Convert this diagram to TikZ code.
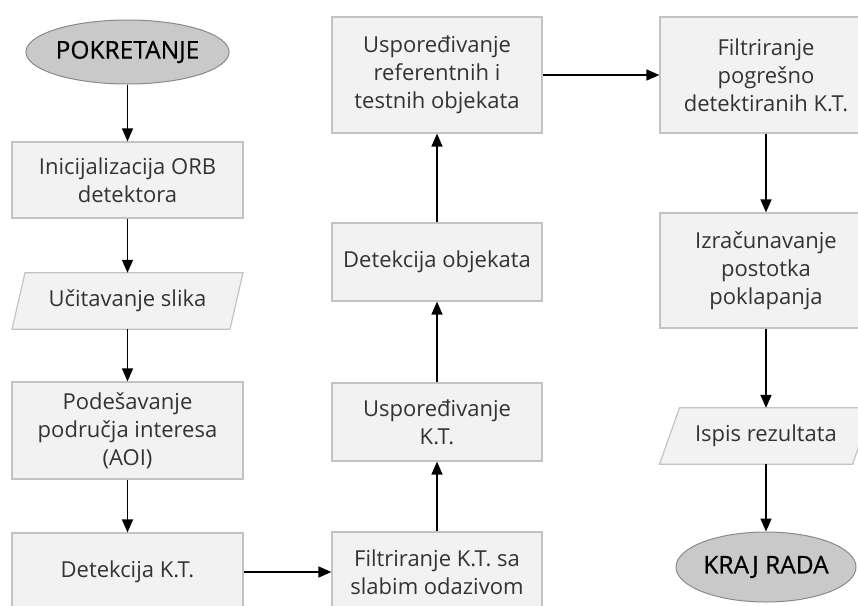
\documentclass[tikz,border=0pt]{standalone}
\usepackage{fontspec}
\setmainfont{Open Sans}
\newfontfamily\termfont[FakeBold=0.5]{Open Sans}
\usetikzlibrary{arrows.meta,shapes.geometric}
\definecolor{boxfill}{HTML}{F2F2F2}
\definecolor{boxline}{HTML}{C3C3C3}
\definecolor{ellfill}{HTML}{C9C9C9}
\definecolor{ellline}{HTML}{8A8A8A}
\definecolor{txt}{HTML}{333333}
\tikzset{
  procbox/.style={draw=boxline, fill=boxfill, line width=1.2pt, rectangle, inner sep=0pt,
    align=center, text=txt, font=\fontsize{22}{28}\selectfont},
  iobox/.style={inner sep=0pt, align=center, text=txt, font=\fontsize{22}{28}\selectfont},
  termin/.style={draw=ellline, fill=ellfill, line width=1pt, ellipse, inner sep=0pt,
    text=black, font=\termfont\fontsize{24.5}{28}\selectfont},
  flow/.style={line width=1.6pt, -{Triangle[length=13pt,width=11pt]}},
}
\begin{document}
\begin{tikzpicture}[x=1pt,y=-1pt]
\useasboundingbox (0,0) rectangle (858,605);
% left column
\node[termin, minimum width=182pt, minimum height=64pt] (start) at (127.5,52) {POKRETANJE};
\node[procbox, minimum width=231pt, minimum height=76pt] (b1) at (127.5,180) {Inicijalizacija ORB\\detektora};
\node[iobox, minimum width=218pt, minimum height=56pt] (p1) at (127.5,301) {};
\fill[boxfill, draw=boxline, line width=1.2pt]
  ([xshift=-109pt+6.5pt]p1.north) -- ([xshift=109pt+6.5pt]p1.north) --
  ([xshift=109pt-6.5pt]p1.south) -- ([xshift=-109pt-6.5pt]p1.south) -- cycle;
\node[iobox] (p1t) at (p1) {Učitavanje slika};
\node[procbox, minimum width=231pt, minimum height=97pt] (b2) at (127.5,430.5) {Podešavanje\\područja interesa\\(AOI)};
\node[procbox, minimum width=231pt, minimum height=78pt] (b3) at (127.5,572) {Detekcija K.T.};
% middle column
\node[procbox, minimum width=210pt, minimum height=80pt] (m1) at (437,572) {Filtriranje K.T. sa\\slabim odazivom};
\node[procbox, minimum width=210pt, minimum height=78pt] (m2) at (437,422) {Uspoređivanje\\K.T.};
\node[procbox, minimum width=210pt, minimum height=78pt] (m3) at (437,262) {Detekcija objekata};
\node[procbox, minimum width=210pt, minimum height=116pt] (m4) at (437,75) {Uspoređivanje\\referentnih i\\testnih objekata};
% right column
\node[procbox, minimum width=212pt, minimum height=116pt] (r1) at (766,75) {Filtriranje\\pogrešno\\detektiranih K.T.};
\node[procbox, minimum width=212pt, minimum height=115pt] (r2) at (766,270.5) {Izračunavanje\\postotka\\poklapanja};
\node[iobox, minimum width=193pt, minimum height=56pt] (p2) at (766,436) {};
\fill[boxfill, draw=boxline, line width=1.2pt]
  ([xshift=-96.5pt+10pt]p2.north) -- ([xshift=96.5pt+10pt]p2.north) --
  ([xshift=96.5pt-10pt]p2.south) -- ([xshift=-96.5pt-10pt]p2.south) -- cycle;
\node[iobox] (p2t) at (p2) {Ispis rezultata};
\node[termin, minimum width=180pt, minimum height=70pt] (end) at (766,567) {KRAJ RADA};
% connectors
\draw[flow] (start.south) -- (b1.north);
\draw[flow] (b1.south) -- (p1.north);
\draw[flow] (p1.south) -- (b2.north);
\draw[flow] (b2.south) -- (b3.north);
\draw[flow] (b3.east) -- (m1.west);
\draw[flow] (m1.north) -- (m2.south);
\draw[flow] (m2.north) -- (m3.south);
\draw[flow] (m3.north) -- (m4.south);
\draw[flow] (m4.east) -- (r1.west);
\draw[flow] (r1.south) -- (r2.north);
\draw[flow] (r2.south) -- (p2.north);
\draw[flow] (p2.south) -- (end.north);
\end{tikzpicture}
\end{document}
